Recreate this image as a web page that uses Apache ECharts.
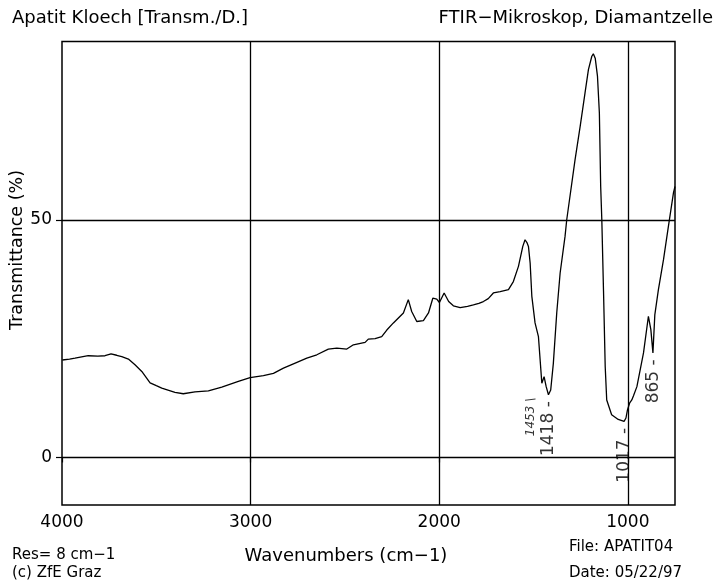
<!DOCTYPE html>
<html>
<head>
<meta charset="utf-8">
<title>Apatit Kloech</title>
<script src="https://cdn.jsdelivr.net/npm/echarts@6/dist/echarts.min.js"></script>
<style>
    html, body { margin: 0; padding: 0; background: #fff; }
    #chart { width: 716px; height: 580px; }
</style>
</head>
<body>
<div id="chart"></div>
<script>
const FONT = 'DejaVu Sans';

// spectrum (cm-1, %T)
const WAVENUMBERS = [
    3998, 3960, 3931, 3861, 3810, 3772, 3740, 3710, 3683, 3648,
    3613, 3577, 3533, 3500, 3471, 3401, 3357, 3295, 3224, 3153,
    3065, 3003, 2932, 2879, 2826, 2773, 2702, 2649, 2588, 2543,
    2490, 2455, 2393, 2376, 2340, 2305, 2278, 2243, 2190, 2164,
    2146, 2119, 2084, 2057, 2034, 2013, 1999, 1974, 1950, 1925,
    1889, 1850, 1819, 1790, 1766, 1740, 1713, 1677, 1633, 1607,
    1580, 1557, 1545, 1535, 1527, 1518, 1509, 1492, 1474, 1456,
    1444, 1433, 1421, 1409, 1395, 1377, 1359, 1333, 1324, 1280,
    1253, 1227, 1209, 1191, 1183, 1173, 1161, 1151, 1144, 1138,
    1129, 1120, 1112, 1086, 1051, 1020, 1010, 1002, 990, 979,
    970, 952, 917, 891, 878, 867, 857, 838, 811, 785,
    758, 750
];
const TRANSMITTANCE = [
    20.5, 20.7, 20.9, 21.4, 21.3, 21.4, 21.8, 21.5, 21.2, 20.7,
    19.5, 18.1, 15.7, 15.1, 14.6, 13.7, 13.4, 13.8, 14.0, 14.8,
    16.0, 16.8, 17.2, 17.7, 18.8, 19.7, 20.9, 21.6, 22.8, 23.0,
    22.8, 23.7, 24.2, 24.9, 25.0, 25.4, 26.8, 28.3, 30.4, 33.2,
    30.7, 28.6, 28.8, 30.4, 33.5, 33.3, 32.6, 34.6, 32.8, 31.9,
    31.5, 31.8, 32.1, 32.4, 32.8, 33.4, 34.6, 34.9, 35.3, 37.0,
    40.2, 44.4, 45.8, 45.2, 44.4, 40.9, 33.9, 28.3, 25.4, 15.6,
    17.0, 14.9, 13.2, 14.2, 19.8, 30.4, 38.8, 46.5, 50.0, 62.6,
    69.6, 76.7, 81.6, 84.4, 84.9, 84.0, 80.2, 72.5, 57.0, 50.0,
    35.0, 19.1, 12.1, 9.0, 8.0, 7.6, 8.3, 10.0, 11.5, 12.1,
    13.0, 14.9, 22.0, 29.7, 26.9, 22.0, 30.0, 35.3, 41.6, 48.6,
    55.7, 57.0
];

// marked bands
const PEAK_WAVENUMBERS = [1418, 1017, 865];
const PEAK_TRANSMITTANCE = [13.2, 7.6, 22.0];
const SHOULDER_WAVENUMBER = 1453;
const SHOULDER_TRANSMITTANCE = 15.6;

const X_TICKS = [4000, 3000, 2000, 1000];
const Y_TICKS = [0, 50];

const spectrum = WAVENUMBERS.map((wn, i) => [wn, TRANSMITTANCE[i]]);
const peaks = PEAK_WAVENUMBERS.map((wn, i) => ({ value: [wn, PEAK_TRANSMITTANCE[i]], name: String(wn) }));

const gridLines = [
    ...Y_TICKS.map((v) => ({ yAxis: v })),
    ...X_TICKS.filter((v) => v !== 4000).map((v) => ({ xAxis: v }))
];

const textStyle = { fontFamily: FONT, fontSize: 18, fill: '#000' };
const noteStyle = { fontFamily: FONT, fontSize: 15, fill: '#000' };

const chart = echarts.init(document.getElementById('chart'), null, { renderer: 'canvas' });

chart.setOption({
    backgroundColor: '#fff',
    animation: false,
    grid: {
        left: 62,
        right: 41,
        top: 41.5,
        bottom: 75,
        show: true,
        borderColor: '#000',
        borderWidth: 1.5,
        backgroundColor: 'transparent'
    },
    xAxis: {
        type: 'value',
        inverse: true,
        min: 750,
        max: 4000,
        axisLine: { show: false },
        splitLine: { show: false },
        axisTick: {
            show: true,
            length: 5,
            customValues: X_TICKS,
            lineStyle: { color: '#000', width: 1.2 }
        },
        axisLabel: {
            customValues: X_TICKS,
            formatter: (v) => String(v),
            margin: 9,
            color: '#000',
            fontFamily: FONT,
            fontSize: 17
        }
    },
    yAxis: {
        type: 'value',
        min: -10,
        max: 87.5,
        axisLine: { show: false },
        splitLine: { show: false },
        axisTick: {
            show: true,
            length: 6,
            customValues: Y_TICKS,
            lineStyle: { color: '#000', width: 1.2 }
        },
        axisLabel: {
            customValues: Y_TICKS,
            margin: 10,
            color: '#000',
            fontFamily: FONT,
            fontSize: 17
        }
    },
    graphic: [
        { type: 'text', left: 12, top: 9, style: { ...textStyle, text: 'Apatit Kloech [Transm./D.]' } },
        { type: 'text', right: 3, top: 9, style: { ...textStyle, text: 'FTIR\u2212Mikroskop, Diamantzelle' } },
        {
            type: 'text', x: 17, y: 250, rotation: Math.PI / 2,
            style: { ...textStyle, fontSize: 17.5, text: 'Transmittance (%)', align: 'center', verticalAlign: 'middle' }
        },
        {
            type: 'text', x: 346, y: 556,
            style: { ...textStyle, text: 'Wavenumbers (cm\u22121)', align: 'center', verticalAlign: 'middle' }
        },
        { type: 'text', left: 12, top: 548, style: { ...noteStyle, text: 'Res= 8 cm\u22121' } },
        { type: 'text', left: 12, top: 566, style: { ...noteStyle, text: '(c) ZfE Graz' } },
        { type: 'text', left: 569, top: 540, style: { ...noteStyle, text: 'File: APATIT04' } },
        { type: 'text', left: 569, top: 566, style: { ...noteStyle, text: 'Date: 05/22/97' } }
    ],
    series: [
        {
            type: 'line',
            data: spectrum,
            showSymbol: false,
            smooth: false,
            silent: true,
            z: 3,
            lineStyle: { color: '#000', width: 1.3 },
            markLine: {
                silent: true,
                symbol: 'none',
                label: { show: false },
                lineStyle: { color: '#000', width: 1.3, type: 'solid' },
                data: gridLines
            }
        },
        {
            type: 'scatter',
            data: peaks,
            symbolSize: 1,
            itemStyle: { color: 'transparent' },
            silent: true,
            z: 4,
            label: {
                show: true,
                position: 'bottom',
                distance: 6,
                rotate: 90,
                align: 'right',
                verticalAlign: 'middle',
                formatter: (p) => `${p.name} -`,
                color: '#000',
                fontFamily: FONT,
                fontSize: 17
            }
        },
        {
            type: 'scatter',
            data: [{ value: [SHOULDER_WAVENUMBER, SHOULDER_TRANSMITTANCE], name: String(SHOULDER_WAVENUMBER) }],
            symbolSize: 1,
            itemStyle: { color: 'transparent' },
            silent: true,
            z: 4,
            label: {
                show: true,
                position: 'bottom',
                distance: 2,
                rotate: 90,
                align: 'right',
                verticalAlign: 'middle',
                offset: [-12, -12],
                formatter: (p) => `${p.name} \\`,
                color: '#000',
                fontFamily: FONT,
                fontStyle: 'italic',
                fontSize: 12
            }
        }
    ]
});
</script>
</body>
</html>
